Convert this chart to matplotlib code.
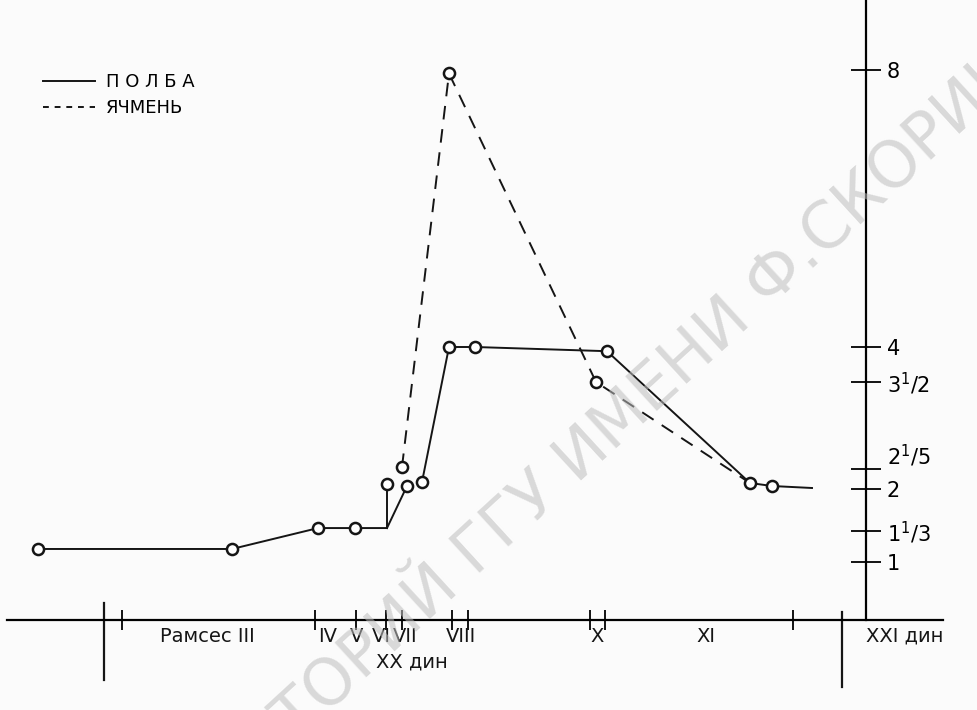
import numpy as np
import matplotlib.pyplot as plt
from matplotlib.lines import Line2D

plt.rcParams['font.family'] = ['DejaVu Sans']
plt.rcParams['mathtext.fontset'] = 'dejavusans'

# price scale of the original drawing is not uniform:
# value of each tick and its height (px) above the base line
tick_vals = [1, 4 / 3, 2, 2.2, 3.5, 4, 8]
tick_labels = ['1', r'$1^{1}/3$', '2', r'$2^{1}/5$', r'$3^{1}/2$', '4', '8']
tick_hgt = [58, 89, 131, 151, 238, 273, 550]

# time axis (arbitrary units along the drawn line)
reign_ticks = [122, 315, 356, 386, 402, 452, 468, 590, 605, 793]
reign_names = ['Рамсес III', 'IV', 'V', 'VI', 'VII', 'VIII', 'X', 'XI', 'XXI дин']
reign_pos = [207, 328, 357, 381, 405, 461, 597, 706, 905]
dyn_label = 'XX дин'
dyn_pos = 412
dividers = [104, 842]

# полба (emmer), solid
emmer_x = [38, 232, 318, 355]
emmer_y = [1.14, 1.14, 1.38, 1.38]
emmer_corner = (387, 1.38)
emmer_branch_x = [387, 407]
emmer_branch_y = [2.05, 2.03]
emmer2_x = [422, 449, 475, 607, 750, 772]
emmer2_y = [2.07, 4.0, 4.0, 3.94, 2.06, 2.03]
emmer_end = (812, 2.01)

# ячмень (barley), dashed
barley_x = [402, 449, 596, 750]
barley_y = [2.23, 7.95, 3.5, 2.06]

ext_vals = [0] + tick_vals + [10]
ext_hgt = [-35] + tick_hgt + [688]


def fwd(v):
    return np.interp(v, ext_vals, ext_hgt)


def inv(h):
    return np.interp(h, ext_hgt, ext_vals)


fig = plt.figure(figsize=(9.77, 7.10), dpi=100)
fig.patch.set_facecolor('#fbfbfb')
ax = fig.add_axes([7 / 977, 90 / 710, 936 / 977, 620 / 710])
ax.set_facecolor('none')
ax.set_yscale('function', functions=(fwd, inv))
ax.set_xlim(7, 943)
ax.set_ylim(inv(0), inv(620))

for s in ['top', 'left']:
    ax.spines[s].set_visible(False)
ax.spines['bottom'].set_linewidth(1.6)
ax.spines['right'].set_position(('data', 866))
ax.spines['right'].set_linewidth(1.6)

ax.yaxis.tick_right()
ax.set_yticks(tick_vals)
labels = ax.set_yticklabels(tick_labels)
labels[3].set_verticalalignment('bottom')   # 2 1/5 sits above its tick
ax.yaxis.set_minor_locator(plt.NullLocator())
ax.tick_params(axis='y', direction='inout', length=22, width=1.3, pad=4, labelsize=15)

ax.set_xticks(reign_ticks)
ax.set_xticklabels([])
ax.tick_params(axis='x', direction='inout', length=15, width=1.3)

lc = '#151515'
mk = dict(marker='o', markersize=8, markerfacecolor='white', markeredgecolor=lc,
          markeredgewidth=1.8)

# solid line
ax.plot(emmer_x + [emmer_corner[0]], emmer_y + [emmer_corner[1]], color=lc, lw=1.4, zorder=3)
for bx, by in zip(emmer_branch_x, emmer_branch_y):
    ax.plot([emmer_corner[0], bx], [emmer_corner[1], by], color=lc, lw=1.4, zorder=3)
ax.plot(emmer2_x + [emmer_end[0]], emmer2_y + [emmer_end[1]], color=lc, lw=1.4, zorder=3)

# dashed line
ax.plot(barley_x, barley_y, color=lc, lw=1.4, ls=(0, (7, 5)), zorder=3)

# markers
ax.plot(emmer_x, emmer_y, ls='none', zorder=4, **mk)
ax.plot(emmer_branch_x, emmer_branch_y, ls='none', zorder=4, **mk)
ax.plot(emmer2_x, emmer2_y, ls='none', zorder=4, **mk)
ax.plot(barley_x[:3], barley_y[:3], ls='none', zorder=4, **mk)

# reign labels below the base line
trans = ax.get_xaxis_transform()
for name, xp in zip(reign_names, reign_pos):
    ax.text(xp, -16 / 620, name, transform=trans, ha='center', va='center',
            fontsize=14, color=lc)
ax.text(dyn_pos, -42 / 620, dyn_label, transform=trans, ha='center', va='center',
        fontsize=14, color=lc)
ax.plot([dividers[0]] * 2, [17 / 620, -60 / 620], transform=trans, color=lc, lw=1.6,
        clip_on=False)
ax.plot([dividers[1]] * 2, [8 / 620, -67 / 620], transform=trans, color=lc, lw=1.6,
        clip_on=False)

# legend
handles = [Line2D([], [], color=lc, lw=1.4),
           Line2D([], [], color=lc, lw=1.4, ls=(0, (3, 3)))]
ax.legend(handles, ['П О Л Б А', 'ЯЧМЕНЬ'], loc='upper left',
          bbox_to_anchor=(34 / 977, 1 - 64 / 710), bbox_transform=fig.transFigure,
          frameon=False, fontsize=13, handlelength=2.9, handletextpad=0.6,
          labelspacing=0.45, borderpad=0)

# repository watermark
fig.text(0.585, 0.345, 'РЕПОЗИТОРИЙ ГГУ ИМЕНИ Ф.СКОРИНЫ', rotation=42.5,
         ha='center', va='center', fontsize=46, color='#bdbdbd', alpha=0.55, zorder=0)

fig.savefig('out.png', dpi=100, facecolor=fig.get_facecolor())
